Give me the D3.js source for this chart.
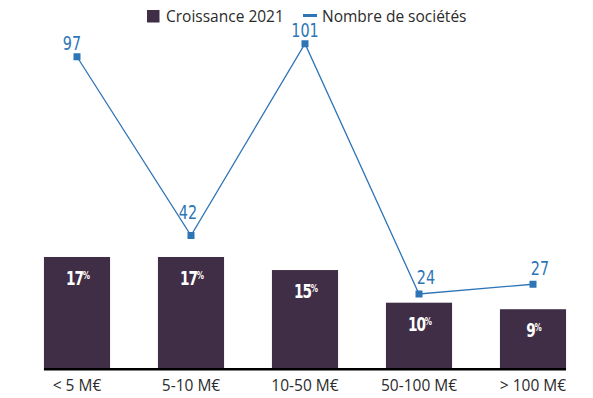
<!DOCTYPE html>
<html>
<head>
<meta charset="utf-8">
<script src="https://cdn.jsdelivr.net/npm/d3@7"></script>
<style>
  body { margin: 0; background: #fff; }
  svg { display: block; font-family: "Open Sans", "DejaVu Sans", sans-serif; }
</style>
</head>
<body>
<div id="chart"></div>
<script>
const categories = ['< 5 M€', '5-10 M€', '10-50 M€', '50-100 M€', '> 100 M€'];
const growth = [17, 17, 15, 10, 9];
const companies = [97, 42, 101, 24, 27];

// label nudges for the line values (layout only)
const lineLabelShift = [[-5, -7], [-3, -17], [0, -7], [7, -10], [7, -9]];

const width = 593;
const height = 398;
const barColor = '#3f2e45';
const lineColor = '#2e75b6';

const svg = d3.select('#chart').append('svg')
    .attr('width', width)
    .attr('height', height);

const x = d3.scaleBand()
    .domain(categories)
    .range([20, 590])
    .paddingInner(0.42)
    .paddingOuter(0.21);

const yBar = d3.scaleLinear().domain([0, 20]).range([368, 368 - 20 * 6.53]);
const yLine = d3.scaleLinear().domain([0, 110]).range([372, 372 - 110 * 3.25]);
const cx = (i) => x(categories[i]) + x.bandwidth() / 2;

// bars
svg.append('g')
    .selectAll('rect')
    .data(growth)
    .join('rect')
    .attr('x', (d, i) => x(categories[i]))
    .attr('y', (d) => yBar(d))
    .attr('width', x.bandwidth())
    .attr('height', (d) => yBar(0) - yBar(d))
    .attr('fill', barColor);

// bar labels, narrow figures with a small % sign
const barLabels = svg.append('g')
    .selectAll('text')
    .data(growth)
    .join('text')
    .attr('transform', (d, i) => `translate(${cx(i) + 1},${yBar(d) + 28}) scale(0.72,1)`)
    .attr('text-anchor', 'middle')
    .attr('font-family', '"DejaVu Sans", sans-serif')
    .attr('font-weight', 'bold')
    .attr('fill', '#fff')
    .attr('font-size', 19)
    .attr('letter-spacing', -1.5);
barLabels.append('tspan').text((d) => d);
barLabels.append('tspan')
    .attr('font-size', 10)
    .attr('dy', -6)
    .attr('letter-spacing', 0)
    .text('%');

// axis
const xAxis = svg.append('g')
    .attr('transform', `translate(0,${yBar(0)})`)
    .call(d3.axisBottom(x).tickSize(0).tickPadding(12));
xAxis.select('.domain')
    .attr('stroke', '#000')
    .attr('stroke-width', 2.5)
    .attr('d', `M${x(categories[0])},1.2H${x(categories[4]) + x.bandwidth()}`);
xAxis.selectAll('text')
    .attr('font-family', '"Open Sans", "DejaVu Sans", sans-serif')
    .attr('font-size', 15.5)
    .attr('fill', '#2b2b2b');

// line
svg.append('path')
    .datum(companies)
    .attr('fill', 'none')
    .attr('stroke', lineColor)
    .attr('stroke-width', 1.3)
    .attr('d', d3.line().x((d, i) => cx(i)).y((d) => yLine(d)));

svg.append('g')
    .selectAll('rect')
    .data(companies)
    .join('rect')
    .attr('x', (d, i) => cx(i) - 3.5)
    .attr('y', (d) => yLine(d) - 3.5)
    .attr('width', 7)
    .attr('height', 7)
    .attr('fill', lineColor);

svg.append('g')
    .selectAll('text')
    .data(companies)
    .join('text')
    .attr('transform', (d, i) =>
        `translate(${cx(i) + lineLabelShift[i][0]},${yLine(d) + lineLabelShift[i][1]}) scale(0.72,1)`)
    .attr('text-anchor', 'middle')
    .attr('font-family', '"DejaVu Sans", sans-serif')
    .attr('fill', lineColor)
    .attr('font-size', 20)
    .text((d) => d);

// legend
const legend = svg.append('g').attr('font-size', 15.5).attr('fill', '#2b2b2b');
legend.append('rect').attr('x', 147).attr('y', 10).attr('width', 12.5).attr('height', 12.5).attr('fill', barColor);
legend.append('text').attr('x', 166).attr('y', 22).text('Croissance 2021');
legend.append('rect').attr('x', 303).attr('y', 14).attr('width', 14).attr('height', 3).attr('fill', lineColor);
legend.append('text').attr('x', 322).attr('y', 22).text('Nombre de sociétés');
</script>
</body>
</html>
